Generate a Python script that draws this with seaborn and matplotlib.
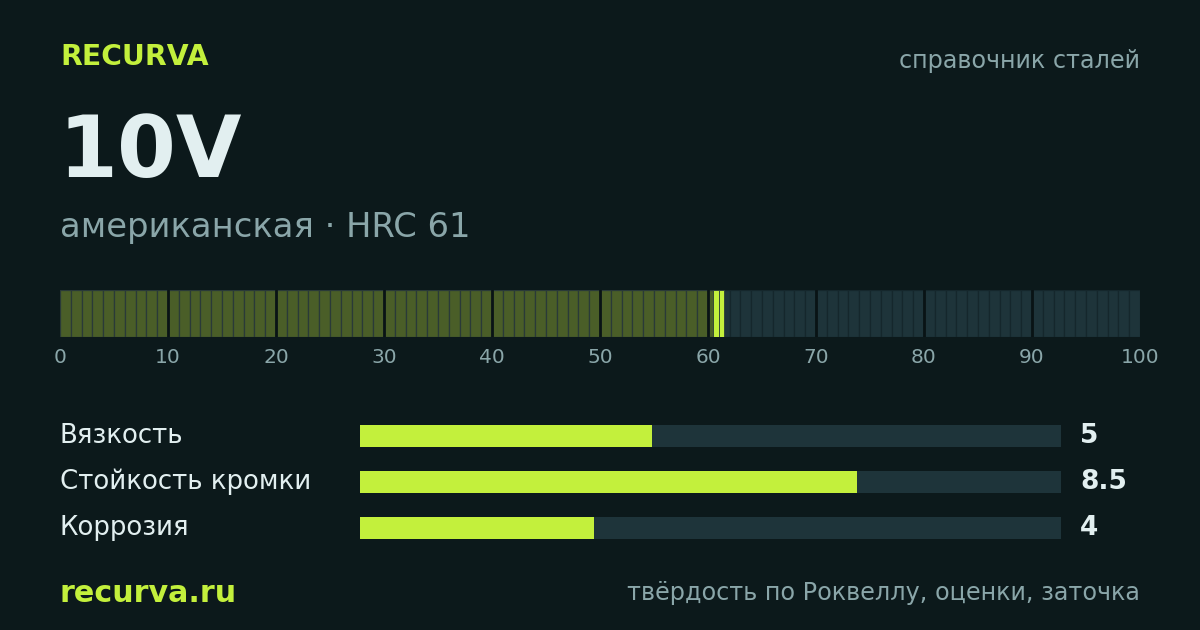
import matplotlib
matplotlib.use("Agg")
import matplotlib.pyplot as plt
import matplotlib.transforms as mtransforms
import numpy as np
import pandas as pd
import seaborn as sns

# ---- data ----
brand = "RECURVA"
subtitle_right = "справочник сталей"
steel_name = "10V"
steel_info = "американская · HRC 61"
hrc_value = 61
scale_ticks = [0, 10, 20, 30, 40, 50, 60, 70, 80, 90, 100]
rating_labels = ["Вязкость", "Стойкость кромки", "Коррозия"]
rating_values = [5, 8.5, 4]
rating_texts = ["5", "8.5", "4"]
rating_max = 12
footer_left = "recurva.ru"
footer_right = "твёрдость по Роквеллу, оценки, заточка"

# ---- style ----
BG = "#0c191b"
LIME = "#c3f03c"
OLIVE = "#4a5e28"
TRACK = "#1e343a"
SEP_OLIVE = "#2a3a38"
SEP_DARK = "#15272c"
WHITE = "#e2eff0"
MUTED = "#8aa6a9"

sns.set_theme(style="dark")
plt.rcParams["font.family"] = ["DejaVu Sans"]

W, H = 1200, 630
fig = plt.figure(figsize=(W / 100, H / 100), dpi=100, facecolor=BG)


def fx(px):
    return px / W


def fy(py):
    return 1 - py / H


# header texts
fig.text(fx(60), fy(57), brand, color=LIME, fontsize=20.3, fontweight="bold",
         ha="left", va="center")
fig.text(fx(1140), fy(61), subtitle_right, color=MUTED, fontsize=17.2,
         ha="right", va="center")
fig.text(fx(59), fy(154), steel_name, color=WHITE, fontsize=61, fontweight="bold",
         ha="left", va="center")
fig.text(fx(60), fy(227), steel_info, color=MUTED, fontsize=24.3,
         ha="left", va="center")

# ---- hardness scale strip ----
ax = fig.add_axes([fx(60), fy(337), fx(1080), 47 / H])
ax.set_facecolor(BG)
ax.set_xlim(0, 100)
ax.set_ylim(0, 1)
cells = np.arange(100)
colors = [OLIVE if c + 1 <= hrc_value else TRACK for c in cells]
edges = [SEP_OLIVE if c + 1 <= hrc_value else SEP_DARK for c in cells]
ax.bar(cells, 1, width=1, align="edge", color=colors, edgecolor=edges,
       linewidth=0.9)
# highlight band around the hardness value
ax.bar([hrc_value - 0.5, hrc_value], 1, width=0.5, align="edge", color=LIME,
       edgecolor=SEP_OLIVE, linewidth=0.6)
for t in scale_ticks[1:-1]:
    ax.axvline(t, color="#091315", linewidth=2.0)
ax.set_xticks(scale_ticks)
ax.set_xticklabels([str(t) for t in scale_ticks])
ax.set_yticks([])
ax.tick_params(axis="x", length=0, pad=8, labelsize=14.5, colors=MUTED)
for s in ax.spines.values():
    s.set_visible(False)
ax.grid(False)

# ---- ratings ----
ax2 = fig.add_axes([fx(360), fy(551), fx(701), 138 / H])
ax2.set_facecolor(BG)
df = pd.DataFrame({"label": rating_labels, "value": rating_values})
df_track = pd.DataFrame({"label": rating_labels, "value": [rating_max] * len(rating_labels)})
sns.barplot(data=df_track, x="value", y="label", orient="h", color=TRACK,
            width=0.46, saturation=1, linewidth=0, ax=ax2)
sns.barplot(data=df, x="value", y="label", orient="h", color=LIME,
            width=0.46, saturation=1, linewidth=0, ax=ax2)
ax2.set_xlim(0, rating_max)
ax2.set_ylim(len(rating_labels) - 0.5, -0.5)
ax2.set_xticks([])
ax2.set_yticks([])
ax2.set_xlabel("")
ax2.set_ylabel("")
for s in ax2.spines.values():
    s.set_visible(False)
ax2.grid(False)
trans = mtransforms.blended_transform_factory(fig.transFigure, ax2.transData)
for i, (lab, txt) in enumerate(zip(rating_labels, rating_texts)):
    ax2.text(fx(60), i, lab, transform=trans, color=WHITE, fontsize=18.7,
             ha="left", va="center")
    ax2.text(fx(1080), i, txt, transform=trans, color=WHITE, fontsize=19,
             fontweight="bold", ha="left", va="center")

# footer
fig.text(fx(60), fy(593), footer_left, color=LIME, fontsize=21.7, fontweight="bold",
         ha="left", va="center")
fig.text(fx(1140), fy(593), footer_right, color=MUTED, fontsize=17.2,
         ha="right", va="center")

fig.savefig("out.png", dpi=100, facecolor=BG)
